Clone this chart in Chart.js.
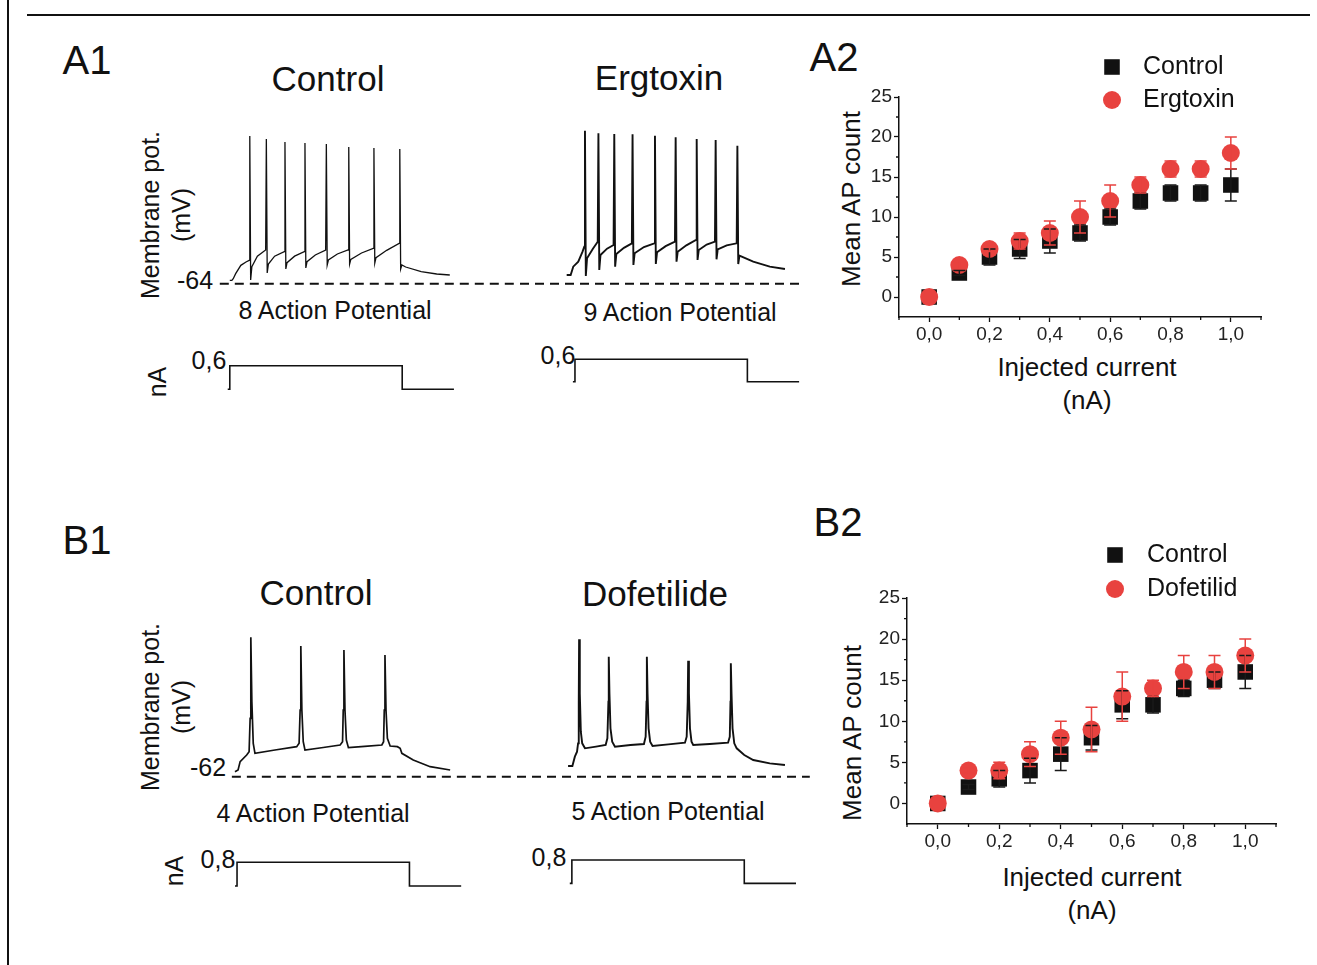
<!DOCTYPE html>
<html lang="en">
<head>
<meta charset="UTF-8">
<title>AP firing: Ergtoxin / Dofetilide</title>
<script src="https://cdnjs.cloudflare.com/ajax/libs/Chart.js/4.4.0/chart.umd.min.js"></script>
<style>
    html, body { margin: 0; padding: 0; background: #fff; }
    body {
        position: relative; width: 1317px; height: 965px; overflow: hidden;
        font-family: "Liberation Sans", Arial, Helvetica, sans-serif; color: #111;
    }
    .frame-top { position: absolute; left: 27px; top: 14px; width: 1283px; height: 2px; background: #111; }
    .frame-left { position: absolute; left: 7px; top: 0; width: 2px; height: 965px; background: #111; }
    .lbl { position: absolute; transform: translate(-50%, -50%); white-space: nowrap; line-height: 1; }
    .rot { transform: translate(-50%, -50%) rotate(-90deg); }
    .panel { font-size: 40px; }
    .title { font-size: 35px; }
    .side { font-size: 25px; }
    .small { font-size: 25px; }
    .axis { font-size: 26px; }
    canvas { position: absolute; }
</style>
</head>
<body>
<div class="frame-top"></div>
<div class="frame-left"></div>

<!-- A row -->
<div class="lbl panel" style="left:87px;top:60px">A1</div>
<div class="lbl title" style="left:328px;top:78px">Control</div>
<div class="lbl title" style="left:659px;top:77px">Ergtoxin</div>
<div class="lbl side rot" style="left:150px;top:215px">Membrane pot.</div>
<div class="lbl side rot" style="left:181px;top:215px">(mV)</div>
<div class="lbl small" style="left:195px;top:280px">-64</div>
<div class="lbl small" style="left:335px;top:310px">8 Action Potential</div>
<div class="lbl small" style="left:680px;top:312px">9 Action Potential</div>
<div class="lbl small" style="left:209px;top:360px">0,6</div>
<div class="lbl small" style="left:558px;top:355px">0,6</div>
<div class="lbl small rot" style="left:157px;top:382px">nA</div>

<div class="lbl panel" style="left:834px;top:57px">A2</div>
<div class="lbl axis rot" style="left:851px;top:199px">Mean AP count</div>
<div class="lbl axis" style="left:1087px;top:367px">Injected current</div>
<div class="lbl axis" style="left:1087px;top:400px">(nA)</div>

<!-- B row -->
<div class="lbl panel" style="left:87px;top:540px">B1</div>
<div class="lbl title" style="left:316px;top:592px">Control</div>
<div class="lbl title" style="left:655px;top:593px">Dofetilide</div>
<div class="lbl side rot" style="left:150px;top:707px">Membrane pot.</div>
<div class="lbl side rot" style="left:181px;top:707px">(mV)</div>
<div class="lbl small" style="left:208px;top:767px">-62</div>
<div class="lbl small" style="left:313px;top:813px">4 Action Potential</div>
<div class="lbl small" style="left:668px;top:811px">5 Action Potential</div>
<div class="lbl small" style="left:218px;top:859px">0,8</div>
<div class="lbl small" style="left:549px;top:857px">0,8</div>
<div class="lbl small rot" style="left:174px;top:871px">nA</div>

<div class="lbl panel" style="left:838px;top:522px">B2</div>
<div class="lbl axis rot" style="left:852px;top:733px">Mean AP count</div>
<div class="lbl axis" style="left:1092px;top:877px">Injected current</div>
<div class="lbl axis" style="left:1092px;top:910px">(nA)</div>

<canvas id="a1Ctrl" width="300" height="300" style="left:216px;top:122px"></canvas>
<canvas id="a1Erg" width="300" height="300" style="left:516px;top:122px"></canvas>
<canvas id="a2" width="460" height="320" style="left:820px;top:45px"></canvas>
<canvas id="b1Ctrl" width="300" height="300" style="left:216px;top:600px"></canvas>
<canvas id="b1Dof" width="300" height="300" style="left:516px;top:600px"></canvas>
<canvas id="b2" width="462" height="340" style="left:828px;top:530px"></canvas>

<script>
// ---- summary plots (A2, B2): mean AP count vs injected current ----
const currentSteps = [0, 0.1, 0.2, 0.3, 0.4, 0.5, 0.6, 0.7, 0.8, 0.9, 1.0];
const a2Control     = [0, 3, 5, 6, 7, 8, 10, 12, 13, 13, 14];
const a2ControlErr  = [0, 0.3, 1, 1.2, 1.5, 1, 1, 1, 1, 1, 2];
const a2Ergtoxin    = [0, 4, 6, 7, 8, 10, 12, 14, 16, 16, 18];
const a2ErgtoxinErr = [0, 0.4, 0.3, 1, 1.5, 2, 2, 1, 1, 1, 2];
const b2Control     = [0, 2, 3, 4, 6, 8, 12, 12, 14, 15, 16];
const b2ControlErr  = [0, 0.3, 1, 1.5, 2, 1.5, 1.7, 1, 1, 1, 2];
const b2Dofetilid    = [0, 4, 4, 6, 8, 9, 13, 14, 16, 16, 18];
const b2DofetilidErr = [0, 0.3, 1, 1.5, 2, 2.7, 3, 1, 2, 2, 2];

const yMajorTicks = [0, 5, 10, 15, 20, 25];
const yMinorTicks = [2.5, 7.5, 12.5, 17.5, 22.5];
const xMajorTicks = [0, 0.2, 0.4, 0.6, 0.8, 1.0];
const xMinorTicks = [-0.1, 0.1, 0.3, 0.5, 0.7, 0.9, 1.1];

// ---- voltage traces (time in ms from step onset, membrane potential in mV) ----
const a1CtrlTime = [0, 6, 10, 17, 32, 47, 56, 58, 60.5, 64, 80, 104, 106, 108.5, 112, 130, 158, 160, 162.5, 166, 188,
    216, 218, 220.5, 224, 248, 278, 280, 282.5, 286, 312, 343, 345, 347.5, 351, 382, 416, 418, 420.5, 424, 455,
    491, 493, 495.5, 499, 510, 555, 600, 638];
const a1CtrlVm = [-63, -63, -62, -59, -54, -52, -51, 23.6, -62.8, -54.8, -48.5, -44.8, 21.8, -58.6, -53.2, -48.5, -45.8, 20, -56.2, -52.4, -48.5,
    -45.8, 19.4, -55.6, -51.8, -47.8, -44.8, 18.8, -53.8, -50.8, -47.2, -44.8, 17, -53.2, -50.4, -46.6, -43.8, 16.4, -52.6, -49.4, -45,
    -40.8, 15.8, -56.2, -53.8, -55, -57.8, -59.2, -59.8];

const a1ErgTime = [-24, -12.5, -5, 9.6, 22, 27, 29, 31.5, 35, 52, 66, 68, 70.5, 74, 93, 112, 114, 116.5, 120, 142,
    165, 167, 169.5, 173, 200, 230, 232, 234.5, 238, 263, 290, 292, 294.5, 298, 323, 351, 353, 355.5, 359, 382,
    406, 408, 410.5, 414, 440, 469, 471, 473.5, 477, 517, 565, 609];
const a1ErgVm = [-59.8, -59.8, -54.8, -51.8, -45.8, -42.8, 26.8, -60.4, -49.8, -44, -39.8, 25.2, -56.8, -47.8, -44, -41.8, 24.8, -54.8, -47.2, -43.5,
    -40.8, 24.6, -53.8, -46.8, -43, -40.8, 23.8, -53.2, -46.2, -42.5, -39.8, 22.8, -51.8, -45.8, -42, -38.8, 21.8, -50.8, -44.8, -41.5,
    -39.8, 21.2, -50.4, -44.4, -42, -40.8, 17.8, -53.2, -48.2, -51.8, -54.8, -56.2];

const b1CtrlTime = [-6, 3, 9, 28, 35, 38, 40, 43, 47, 52, 110, 173, 180, 183, 185, 188, 192, 197, 250, 299,
    306, 308, 310, 313, 317, 323, 370, 420, 425, 427, 429, 432, 436, 444, 465, 473, 478, 511, 560, 618];
const b1CtrlVm = [-62, -61, -56, -52, -50, -30, 18.6, -20, -45, -51, -49, -47, -45, -25, 13.4, -25, -44, -49, -47.5, -46,
    -44, -25, 11, -25, -43, -47.6, -46.8, -46, -44, -25, 8, -25, -42, -46.6, -47, -48, -51, -55, -59, -61];

const b1DofTime = [-11, 1.5, 8.7, 15, 18, 20, 21, 23, 26, 30, 38, 70, 98, 103, 106, 107, 109, 112, 117, 125,
    170, 209, 214, 216.5, 217.5, 219.5, 222.5, 227, 234, 280, 328, 333, 336, 337.3, 339.5, 342.5, 347, 352,
    400, 453, 458, 460, 461, 463, 466, 471, 478, 500, 526, 574, 618];
const b1DofVm = [-58.6, -58.6, -53, -50, -45, -20, 17.4, -15, -38, -45, -48, -47, -46, -42, -20, 7, -15, -36, -44, -47,
    -46, -45.4, -41, -20, 7, -15, -36, -44, -46.6, -45.6, -44.6, -41, -20, 4.6, -15, -36, -44, -46,
    -45.4, -44.6, -41, -20, 3, -15, -36, -45, -48, -52, -55, -57, -58];

// current step protocol (nA)
const stepTime = [-6, 0, 0, 500, 500, 650];
const stepA = [0, 0, 0.6, 0.6, 0, 0];
const stepB = [0, 0, 0.8, 0.8, 0, 0];

// dashed resting level (mV)
const restA = -65;
const restB = -65;

Chart.defaults.font.family = '"Liberation Sans", Arial, Helvetica, sans-serif';
Chart.defaults.color = '#222';

const RED = '#E8423F';
const INK = '#111';

const toPoints = (xs, ys) => xs.map((x, i) => ({x: x, y: ys[i]}));

// error bars drawn on top of all markers
const errorBars = {
    id: 'errorBars',
    afterDatasetsDraw(chart) {
        const {ctx, scales: {x, y}} = chart;
        ctx.save();
        chart.data.datasets.forEach(ds => {
            if (!ds.errors) return;
            ctx.strokeStyle = ds.errorColor;
            ctx.lineWidth = 1.5;
            ctx.beginPath();
            ds.data.forEach((p, j) => {
                const e = ds.errors[j];
                if (!e) return;
                const px = x.getPixelForValue(p.x);
                const hi = y.getPixelForValue(p.y + e);
                const lo = y.getPixelForValue(p.y - e);
                ctx.moveTo(px, hi); ctx.lineTo(px, lo);
                ctx.moveTo(px - 6, hi); ctx.lineTo(px + 6, hi);
                ctx.moveTo(px - 6, lo); ctx.lineTo(px + 6, lo);
            });
            ctx.stroke();
        });
        ctx.restore();
    }
};

// short unlabeled ticks between the labeled ones
const minorTicks = {
    id: 'minorTicks',
    afterDraw(chart) {
        const {ctx, chartArea, scales: {x, y}} = chart;
        ctx.save();
        ctx.strokeStyle = INK;
        ctx.lineWidth = 1.3;
        ctx.beginPath();
        xMinorTicks.forEach(v => {
            const px = x.getPixelForValue(v);
            ctx.moveTo(px, chartArea.bottom); ctx.lineTo(px, chartArea.bottom + 3);
        });
        yMinorTicks.forEach(v => {
            const py = y.getPixelForValue(v);
            ctx.moveTo(chartArea.left, py); ctx.lineTo(chartArea.left - 3, py);
        });
        ctx.stroke();
        ctx.restore();
    }
};

// legend with the same markers as the data
const markerLegend = {
    id: 'markerLegend',
    afterDraw(chart, args, opts) {
        const ctx = chart.ctx;
        ctx.save();
        ctx.font = '25px "Liberation Sans", Arial, sans-serif';
        ctx.textBaseline = 'middle';
        chart.data.datasets.forEach((ds, i) => {
            const cx = opts.x, cy = opts.y + i * opts.gap;
            ctx.fillStyle = ds.backgroundColor;
            if (ds.pointStyle === 'rect') {
                const s = ds.pointRadius * Math.SQRT1_2;
                ctx.fillRect(cx - s, cy - s, 2 * s, 2 * s);
            } else {
                ctx.beginPath();
                ctx.arc(cx, cy, ds.pointRadius, 0, Math.PI * 2);
                ctx.fill();
            }
            ctx.fillStyle = INK;
            ctx.fillText(ds.label, opts.textX, cy);
        });
        ctx.restore();
    }
};

function doseChart(id, ctrl, ctrlErr, drug, drugErr, drugLabel, pad, legend) {
    new Chart(document.getElementById(id), {
        type: 'scatter',
        data: {
            datasets: [{
                label: 'Control',
                data: toPoints(currentSteps, ctrl),
                errors: ctrlErr,
                errorColor: '#1a1a1a',
                pointStyle: 'rect',
                pointRadius: 11,
                backgroundColor: INK,
                borderWidth: 0,
                order: 2
            }, {
                label: drugLabel,
                data: toPoints(currentSteps, drug),
                errors: drugErr,
                errorColor: RED,
                pointStyle: 'circle',
                pointRadius: 9,
                backgroundColor: RED,
                borderWidth: 0,
                order: 1
            }]
        },
        options: {
            responsive: false,
            animation: false,
            events: [],
            layout: {padding: pad},
            plugins: {
                legend: {display: false},
                tooltip: {enabled: false},
                markerLegend: legend
            },
            scales: {
                x: {
                    type: 'linear', min: -0.1, max: 1.1,
                    afterBuildTicks: axis => { axis.ticks = xMajorTicks.map(v => ({value: v})); },
                    afterFit: axis => { axis.height = 30; },
                    ticks: {
                        autoSkip: false, maxRotation: 0, padding: 1,
                        font: {size: 19}, color: '#222',
                        callback: v => v.toFixed(1).replace('.', ',')
                    },
                    grid: {drawOnChartArea: false, drawTicks: true, tickLength: 5, tickColor: INK, tickWidth: 1.3},
                    border: {display: true, color: INK, width: 1.5}
                },
                y: {
                    type: 'linear', min: -2.5, max: 25,
                    afterBuildTicks: axis => { axis.ticks = yMajorTicks.map(v => ({value: v})); },
                    afterFit: axis => { axis.width = 50; },
                    ticks: {padding: 2, font: {size: 19}, color: '#222'},
                    grid: {drawOnChartArea: false, drawTicks: true, tickLength: 5, tickColor: INK, tickWidth: 1.3},
                    border: {display: true, color: INK, width: 1.5}
                }
            }
        },
        plugins: [errorBars, minorTicks, markerLegend]
    });
}

function traceChart(id, time, vm, step, rest, g) {
    new Chart(document.getElementById(id), {
        type: 'scatter',
        data: {
            datasets: [{
                data: toPoints(time, vm),
                showLine: true, pointRadius: 0,
                borderColor: INK, borderWidth: g.lw,
                yAxisID: 'y', clip: false
            }, {
                data: toPoints(g.restSpan, [rest, rest]),
                showLine: true, pointRadius: 0,
                borderColor: INK, borderWidth: 2,
                borderDash: [9, 6], borderDashOffset: g.dashOffset,
                yAxisID: 'y', clip: false
            }, {
                data: toPoints(stepTime, step),
                showLine: true, pointRadius: 0,
                borderColor: INK, borderWidth: 1.6,
                yAxisID: 'yI', clip: false
            }]
        },
        options: {
            responsive: false,
            animation: false,
            events: [],
            layout: {padding: 0},
            plugins: {legend: {display: false}, tooltip: {enabled: false}},
            scales: {
                x: {type: 'linear', display: false, min: g.tMin, max: g.tMax},
                y: {type: 'linear', display: false, min: g.vMin, max: g.vMax},
                yI: {type: 'linear', display: false, min: g.iMin, max: g.iMax}
            }
        }
    });
}

traceChart('a1Ctrl', a1CtrlTime, a1CtrlVm, stepA, restA,
    {tMin: -40, tMax: 830, vMin: -148, vMax: 32, iMin: -0.832, iMax: 6.80, restSpan: [-29, 830], dashOffset: 0, lw: 1.3});
traceChart('a1Erg', a1ErgTime, a1ErgVm, stepA, restA,
    {tMin: -171, tMax: 699, vMin: -148, vMax: 32, iMin: -1.08, iMax: 6.96, restSpan: [-171, 652], dashOffset: 11, lw: 1.9});
traceChart('b1Ctrl', b1CtrlTime, b1CtrlVm, stepB, restB,
    {tMin: -61, tMax: 809, vMin: -139, vMax: 41, iMin: -0.473, iMax: 9.66, restSpan: [-15, 809], dashOffset: 0, lw: 1.7});
traceChart('b1Dof', b1DofTime, b1DofVm, stepB, restB,
    {tMin: -162, tMax: 708, vMin: -139, vMax: 41, iMin: -0.57, iMax: 9.70, restSpan: [-162, 690], dashOffset: 14, lw: 1.9});

doseChart('a2', a2Control, a2ControlErr, a2Ergtoxin, a2ErgtoxinErr, 'Ergtoxin',
    {left: 29, top: 52, right: 19, bottom: 18}, {x: 292, y: 22, gap: 33, textX: 323});
doseChart('b2', b2Control, b2ControlErr, b2Dofetilid, b2DofetilidErr, 'Dofetilid',
    {left: 29, top: 68, right: 14, bottom: 16}, {x: 287, y: 25, gap: 34, textX: 319});
</script>
</body>
</html>
